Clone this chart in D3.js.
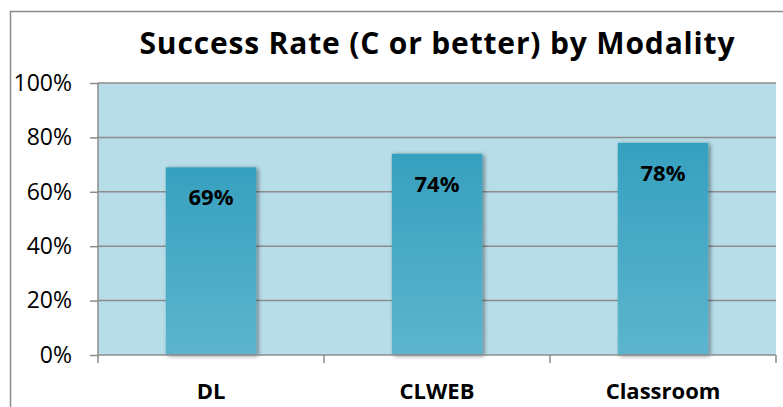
<!DOCTYPE html>
<html>
<head>
<meta charset="utf-8">
<script src="https://cdn.jsdelivr.net/npm/d3@7"></script>
<style>
  html, body { margin: 0; padding: 0; background: #fff; }
  svg { display: block; }
</style>
</head>
<body>
<svg id="chart" width="783" height="407"></svg>
<script>
// Success rate by course modality
const categories = ["DL", "CLWEB", "Classroom"];
const successRates = [69, 74, 78];
const yTicks = [0, 20, 40, 60, 80, 100];
const titleText = "Success Rate (C or better) by Modality";

const svg = d3.select("#chart");
const W = 783, H = 407;
const plot = { left: 98, right: 776, top: 83, bottom: 355 };
const font = "'Open Sans', 'Liberation Sans', sans-serif";

// outer chart border
svg.append("rect")
  .attr("x", 10.5).attr("y", 11.5)
  .attr("width", W).attr("height", H)
  .attr("fill", "#fff").attr("stroke", "#8a8a8a").attr("stroke-width", 1.5);

const x = d3.scaleBand().domain(categories)
  .range([plot.left, plot.right]).paddingInner(0.6).paddingOuter(0.3);
const y = d3.scaleLinear().domain([0, 100]).range([plot.bottom, plot.top]);

// plot background
svg.append("rect")
  .attr("x", plot.left).attr("y", plot.top)
  .attr("width", plot.right - plot.left).attr("height", plot.bottom - plot.top)
  .attr("fill", "#b7dde8");

// gridlines
svg.append("g").selectAll("line").data(yTicks.filter(d => d > 0)).join("line")
  .attr("x1", plot.left).attr("x2", plot.right)
  .attr("y1", d => y(d)).attr("y2", d => y(d))
  .attr("stroke", "#8c8c8c").attr("stroke-width", 1.5);

// bar gradient and shadow
const defs = svg.append("defs");
const grad = defs.append("linearGradient").attr("id", "barGrad")
  .attr("x1", 0).attr("y1", 0).attr("x2", 0).attr("y2", 1);
grad.append("stop").attr("offset", "0%").attr("stop-color", "#36a0bf");
grad.append("stop").attr("offset", "100%").attr("stop-color", "#5cb5cd");
const shadow = defs.append("filter").attr("id", "shadow")
  .attr("x", "-10%").attr("y", "-10%").attr("width", "130%").attr("height", "130%");
shadow.append("feGaussianBlur").attr("in", "SourceAlpha").attr("stdDeviation", 2).attr("result", "b");
shadow.append("feOffset").attr("in", "b").attr("dx", 2).attr("dy", 1).attr("result", "o");
shadow.append("feComponentTransfer").attr("in", "o").attr("result", "s")
  .append("feFuncA").attr("type", "linear").attr("slope", 0.45);
const merge = shadow.append("feMerge");
merge.append("feMergeNode").attr("in", "s");
merge.append("feMergeNode").attr("in", "SourceGraphic");

// bars
svg.append("g").selectAll("rect").data(successRates).join("rect")
  .attr("x", (d, i) => x(categories[i]))
  .attr("y", d => y(d))
  .attr("width", x.bandwidth())
  .attr("height", d => y(0) - y(d))
  .attr("fill", "url(#barGrad)")
  .attr("filter", "url(#shadow)");

// value labels
svg.append("g").selectAll("text").data(successRates).join("text")
  .attr("x", (d, i) => x(categories[i]) + x.bandwidth() / 2)
  .attr("y", d => y(d) + 38)
  .attr("text-anchor", "middle")
  .attr("font-family", font).attr("font-weight", "bold").attr("font-size", 22)
  .attr("fill", "#000")
  .text(d => d + "%");

// y axis
const yAxis = svg.append("g").attr("transform", `translate(${plot.left},0)`)
  .call(d3.axisLeft(y).tickValues(yTicks).tickFormat(d => d + "%").tickSize(8).tickPadding(18));
yAxis.selectAll("line, path").attr("stroke", "#8c8c8c").attr("stroke-width", 1.5);
yAxis.select(".domain").attr("d", `M0,${plot.top}V${plot.bottom}`);
yAxis.selectAll("text").attr("font-family", font).attr("font-size", 23).attr("fill", "#000");

// x axis
const xAxis = svg.append("g").attr("transform", `translate(0,${plot.bottom})`)
  .call(d3.axisBottom(x).tickSize(0).tickPadding(28));
xAxis.select(".domain").attr("stroke", "#8c8c8c").attr("stroke-width", 1.5)
  .attr("d", `M${plot.left},0H${plot.right}`);
xAxis.selectAll("text").attr("font-family", font).attr("font-weight", "bold")
  .attr("font-size", 22).attr("fill", "#000");
// category separator ticks
const step = (plot.right - plot.left) / categories.length;
xAxis.append("g").selectAll("line").data(d3.range(categories.length + 1)).join("line")
  .attr("x1", i => plot.left + i * step).attr("x2", i => plot.left + i * step)
  .attr("y1", 0).attr("y2", 8)
  .attr("stroke", "#8c8c8c").attr("stroke-width", 1.5);

// title
svg.append("text")
  .attr("x", 437).attr("y", 54)
  .attr("text-anchor", "middle")
  .attr("font-family", font).attr("font-weight", "bold").attr("font-size", 30)
  .attr("textLength", 595).attr("lengthAdjust", "spacing")
  .attr("fill", "#000")
  .text(titleText);
</script>
</body>
</html>
